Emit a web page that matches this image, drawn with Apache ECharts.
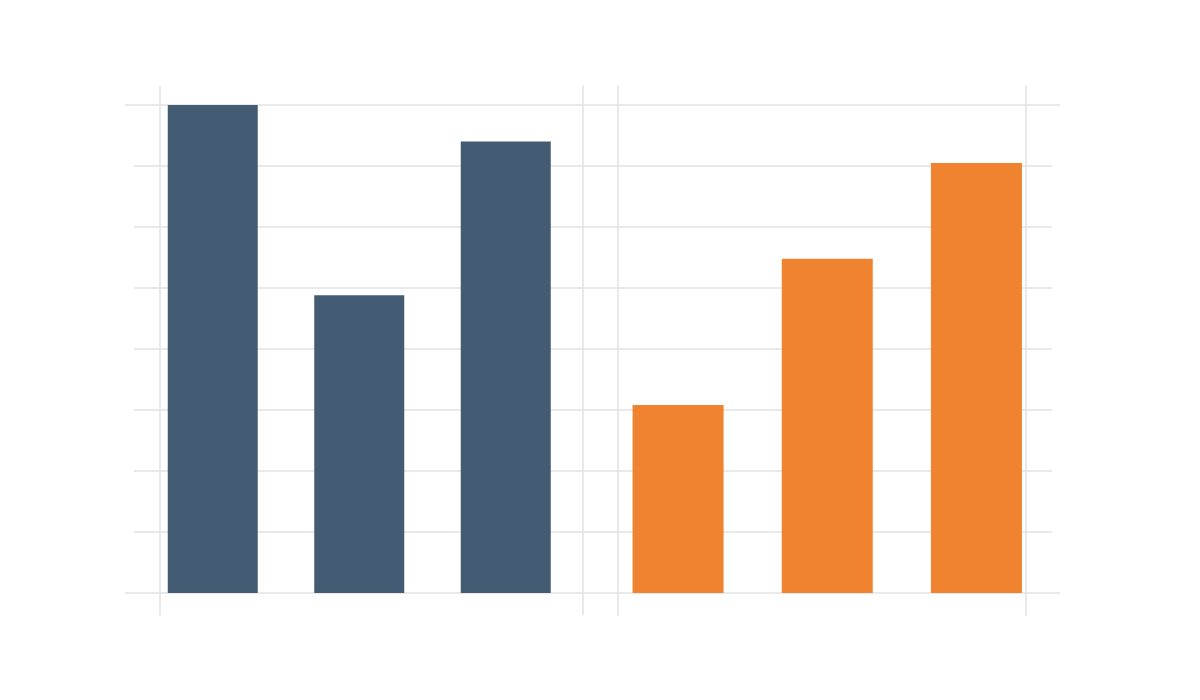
<!DOCTYPE html>
<html>
<head>
<meta charset="utf-8">
<script src="https://cdn.jsdelivr.net/npm/echarts@6/dist/echarts.min.js"></script>
<style>html,body{margin:0;padding:0;background:#fff;}#c{width:1200px;height:700px;}</style>
</head>
<body>
<div id="c"></div>
<script>
const leftCategories = ['A', 'B', 'C'];
const rightCategories = ['D', 'E', 'F'];
const leftValues = [8.0, 4.88, 7.4];
const rightValues = [3.08, 5.48, 7.05];
const yMin = 0, yMax = 8, yStep = 1;

const gridColor = '#e2e2e2';
const chart = echarts.init(document.getElementById('c'));
const hiddenX = (gi, type, data) => ({
  gridIndex: gi, type: type, data: data, show: false,
  min: type === 'value' ? 0 : undefined, max: type === 'value' ? 1 : undefined
});
const plainY = (gi, extra) => Object.assign({
  gridIndex: gi, type: 'value', min: yMin, max: yMax, interval: yStep,
  axisLabel: { show: false }, axisTick: { show: false },
  axisLine: { show: false }, splitLine: { show: false }
}, extra || {});

chart.setOption({
  animation: false,
  backgroundColor: '#ffffff',
  grid: [
    // 0: outer horizontal lines (top & bottom)
    { left: 125, right: 140, top: 105, bottom: 107 },
    // 1: inner horizontal lines
    { left: 134, right: 148, top: 105, bottom: 107 },
    // 2: left panel vertical lines
    { left: 160, right: 617, top: 86, bottom: 85 },
    // 3: right panel vertical lines
    { left: 618, right: 174, top: 86, bottom: 85 },
    // 4: left bars
    { left: 139.5, right: 621, top: 105, bottom: 107 },
    // 5: right bars
    { left: 603.5, right: 149, top: 105, bottom: 107 }
  ],
  xAxis: [
    hiddenX(0, 'value'),
    hiddenX(1, 'value'),
    hiddenX(2, 'value'),
    hiddenX(3, 'value'),
    hiddenX(4, 'category', leftCategories),
    hiddenX(5, 'category', rightCategories)
  ],
  yAxis: [
    plainY(0, { interval: yMax - yMin, splitLine: { show: true, lineStyle: { color: gridColor, width: 1.5 } } }),
    plainY(1, { splitLine: { show: true, showMinLine: false, showMaxLine: false, lineStyle: { color: gridColor, width: 1.5 } } }),
    plainY(2, { min: 0, max: 1, interval: 1, position: 'left', axisLine: { show: true, onZero: false, lineStyle: { color: gridColor, width: 1.5 } } }),
    plainY(2, { min: 0, max: 1, interval: 1, position: 'right', axisLine: { show: true, onZero: false, lineStyle: { color: gridColor, width: 1.5 } } }),
    plainY(3, { min: 0, max: 1, interval: 1, position: 'left', axisLine: { show: true, onZero: false, lineStyle: { color: gridColor, width: 1.5 } } }),
    plainY(3, { min: 0, max: 1, interval: 1, position: 'right', axisLine: { show: true, onZero: false, lineStyle: { color: gridColor, width: 1.5 } } }),
    plainY(4),
    plainY(5)
  ],
  series: [
    { type: 'bar', xAxisIndex: 4, yAxisIndex: 6, data: leftValues, barWidth: 90,
      itemStyle: { color: '#435b73' }, z: 5 },
    { type: 'bar', xAxisIndex: 5, yAxisIndex: 7, data: rightValues, barWidth: 91,
      itemStyle: { color: '#ef832f' }, z: 5 }
  ]
});
</script>
</body>
</html>
